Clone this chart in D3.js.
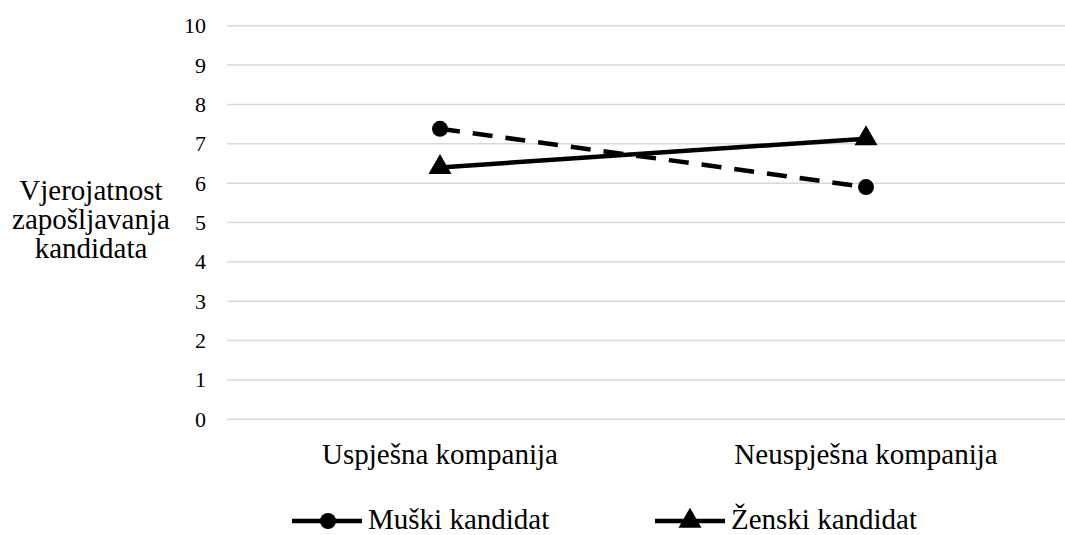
<!DOCTYPE html>
<html>
<head>
<meta charset="utf-8">
<script src="https://cdn.jsdelivr.net/npm/d3@7"></script>
</head>
<body style="margin:0">
<svg id="chart" width="1065" height="535" style="display:block; font-family: 'Times New Roman', 'Liberation Serif', Tinos, serif"></svg>
<script>
const categories = ['Uspješna kompanija', 'Neuspješna kompanija'];
const muski = [7.38, 5.9];
const zenski = [6.4, 7.13];
const yTicks = [0, 1, 2, 3, 4, 5, 6, 7, 8, 9, 10];
const seriesNames = ['Muški kandidat', 'Ženski kandidat'];
const yTitle = ['Vjerojatnost', 'zapošljavanja', 'kandidata'];

const FONT = "'Times New Roman', 'Liberation Serif', Tinos, serif";
const svg = d3.select('#chart');

const x = d3.scaleBand()
  .domain(categories)
  .range([227, 1079]);

const y = d3.scaleLinear()
  .domain([0, 10])
  .range([419.3, 25.7]);

const cx = (c) => x(c) + x.bandwidth() / 2;

// gridlines
svg.append('g')
  .selectAll('line')
  .data(yTicks)
  .enter()
  .append('line')
  .attr('x1', 227)
  .attr('x2', 1079)
  .attr('y1', d => y(d))
  .attr('y2', d => y(d))
  .attr('stroke', '#d9d9d9')
  .attr('stroke-width', 1.5);

// y tick labels
yTicks.forEach(d => {
  svg.append('text')
    .attr('x', 206)
    .attr('y', y(d) + 7.5)
    .attr('text-anchor', 'end')
    .style('font-family', FONT)
    .style('font-size', '22px')
    .text(d);
});

// y title
yTitle.forEach((d, i) => {
  svg.append('text')
    .attr('x', 91)
    .attr('y', 200 + i * 29)
    .attr('text-anchor', 'middle')
    .style('font-family', FONT)
    .style('font-size', '29px')
    .text(d);
});

// category labels
categories.forEach(d => {
  svg.append('text')
    .attr('x', cx(d))
    .attr('y', 464)
    .attr('text-anchor', 'middle')
    .style('font-family', FONT)
    .style('font-size', '29px')
    .text(d);
});

const line = d3.line()
  .x((d, i) => cx(categories[i]))
  .y(d => y(d));

// muski - dashed with circles
svg.append('path')
  .datum(muski)
  .attr('d', line)
  .attr('fill', 'none')
  .attr('stroke', '#000')
  .attr('stroke-width', 4.5)
  .attr('stroke-dasharray', '20,13');

svg.append('g')
  .selectAll('circle')
  .data(muski)
  .enter()
  .append('circle')
  .attr('cx', (d, i) => cx(categories[i]))
  .attr('cy', d => y(d))
  .attr('r', 8);

// zenski - solid with triangles
svg.append('path')
  .datum(zenski)
  .attr('d', line)
  .attr('fill', 'none')
  .attr('stroke', '#000')
  .attr('stroke-width', 4.5);

const tri = d3.symbol().type(d3.symbolTriangle).size(230);

svg.append('g')
  .selectAll('path')
  .data(zenski)
  .enter()
  .append('path')
  .attr('d', tri)
  .attr('transform', (d, i) => `translate(${cx(categories[i])},${y(d)})`);

// legend
const legendX = [292, 655];

seriesNames.forEach((name, i) => {
  let g = svg.append('g').attr('transform', `translate(${legendX[i]},521)`);
  g.append('line')
    .attr('x1', 0)
    .attr('x2', 70)
    .attr('y1', 0)
    .attr('y2', 0)
    .attr('stroke', '#000')
    .attr('stroke-width', 4.5);
  if (i === 0) {
    g.append('circle').attr('cx', 36).attr('cy', 0).attr('r', 8);
  } else {
    g.append('path').attr('d', tri).attr('transform', 'translate(35,0)');
  }
  g.append('text')
    .attr('x', 76)
    .attr('y', 8)
    .style('font-family', FONT)
    .style('font-size', '29px')
    .text(name);
});
</script>
</body>
</html>
